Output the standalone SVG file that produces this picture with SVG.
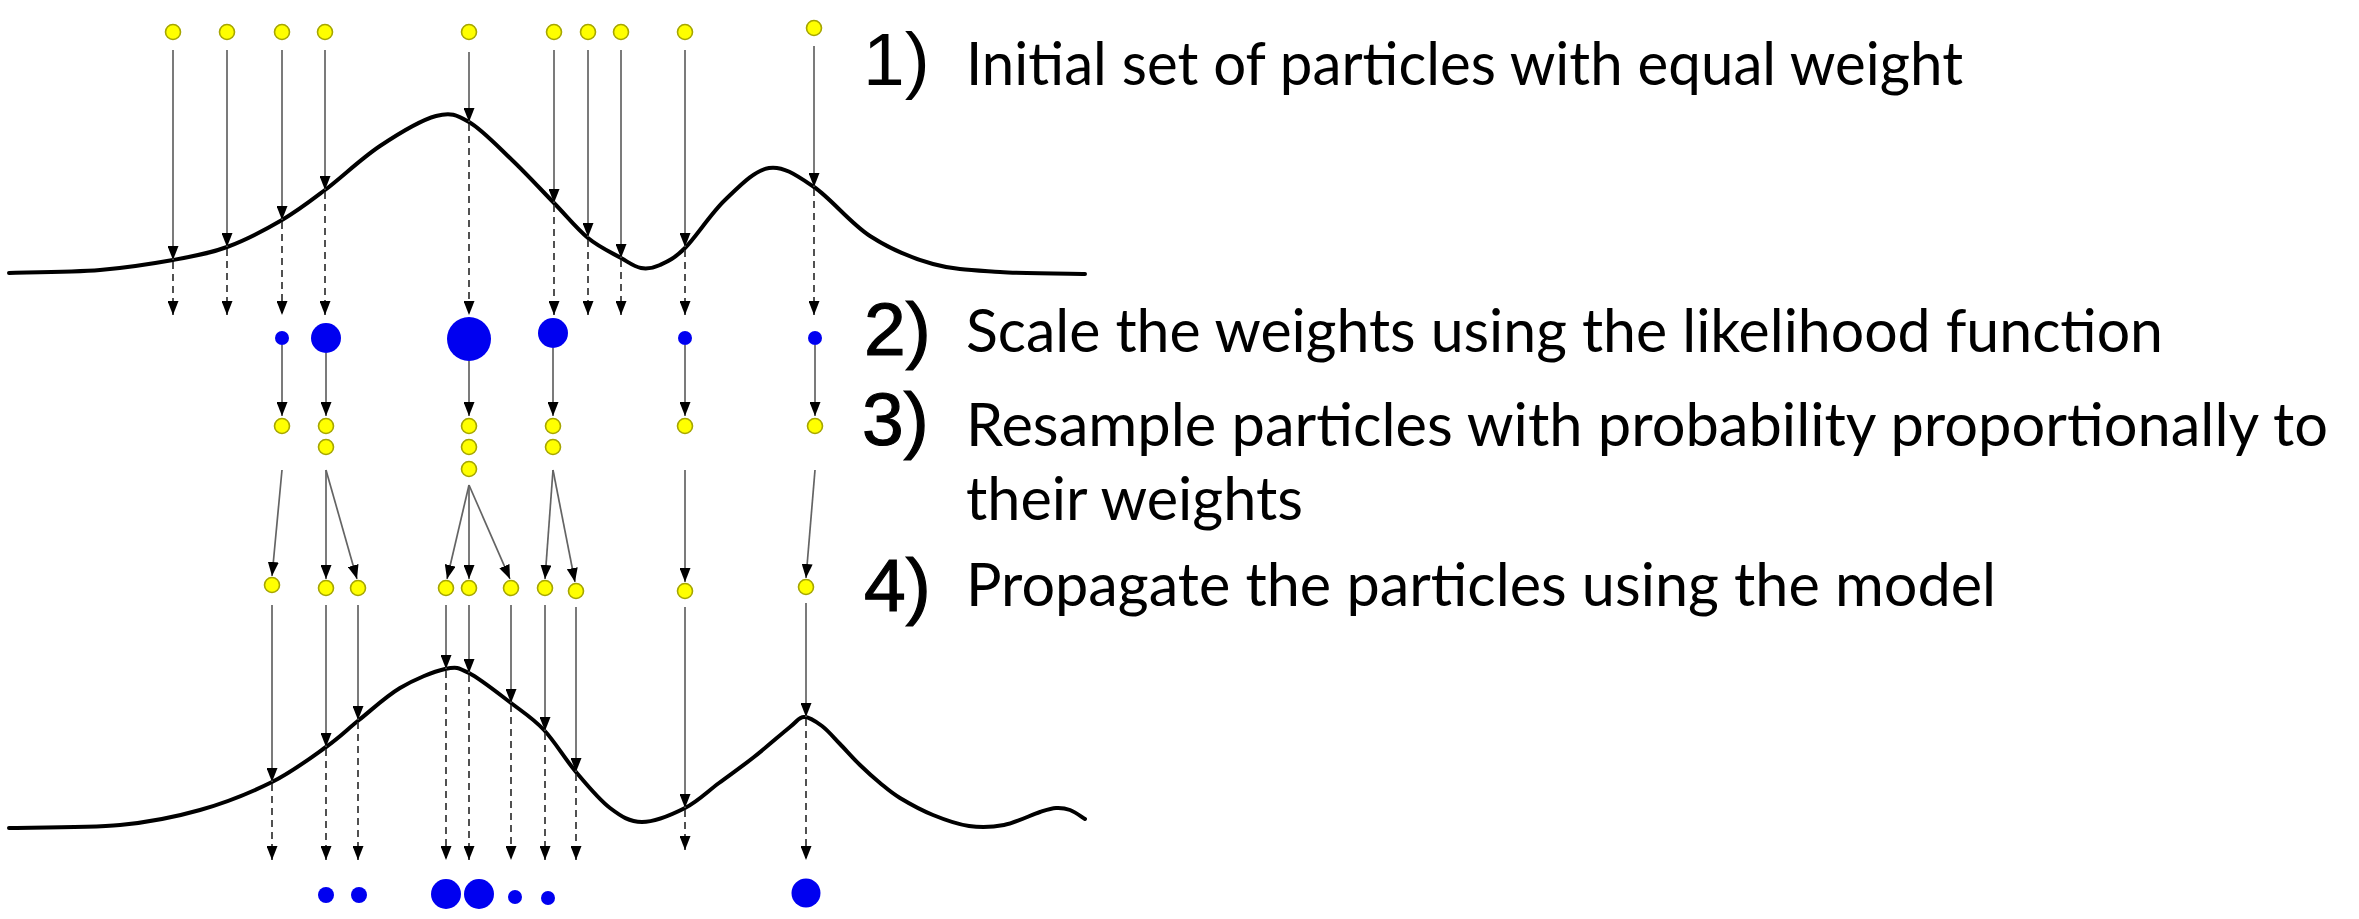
<svg xmlns="http://www.w3.org/2000/svg" width="2359" height="919" viewBox="0 0 2359 919">
<style>
.pt{fill:#ffff00;stroke:#a6a600;stroke-width:1.6}
.wt{fill:#0000f0}
.sol{stroke:#646464;stroke-width:1.7;fill:none}
.dsh{stroke:#333;stroke-width:1.7;fill:none;stroke-dasharray:7 5}
.crv{stroke:#000;stroke-width:4;fill:none;stroke-linecap:round;stroke-linejoin:round}
.num{font-family:"Liberation Sans",Arial,sans-serif;font-size:75px;fill:#000}
.bold{stroke:#000;stroke-width:1.2}
.txt{font-family:Lato,"Open Sans",sans-serif;font-size:60px;fill:#000}
</style>
<defs>
<marker id="ah" markerUnits="userSpaceOnUse" viewBox="0 0 14 11" refX="14" refY="5.5" markerWidth="14" markerHeight="11" orient="auto">
<path d="M0,0 L14,5.5 L0,11 z" fill="#000"/>
</marker>
</defs>
<rect width="2359" height="919" fill="#fff"/>

<g id="likelihood-top">
<path class="crv" d="M9,273 C24.2,272.5 72.7,272.2 100,270 C127.3,267.8 151.8,263.8 173,260 C194.2,256.2 208.8,253.7 227,247 C245.2,240.3 265.7,229.5 282,220 C298.3,210.5 308.7,202.3 325,190 C341.3,177.7 361.5,158.3 380,146 C398.5,133.7 421.2,120 436,116 C450.8,112 456.3,114.7 469,122 C481.7,129.3 497.8,146.5 512,160 C526.2,173.5 541.3,190 554,203 C566.7,216 576.8,228.8 588,238 C599.2,247.2 612.2,253 621,258 C629.8,263 634.5,266.8 641,268 C647.5,269.2 652.7,268.3 660,265 C667.3,261.7 674.2,258.8 685,248 C695.8,237.2 711,213.3 725,200 C739,186.7 754.2,170.2 769,168 C783.8,165.8 797.2,175.7 814,187 C830.8,198.3 850.2,223.2 870,236 C889.8,248.8 911.3,258 933,264 C954.7,270 974.7,270.3 1000,272 C1025.3,273.7 1070.8,273.7 1085,274"/>
</g>
<g id="likelihood-bottom">
<path class="crv" d="M9,828 C27.5,827.5 88.2,828 120,825 C151.8,822 174.7,817.2 200,810 C225.3,802.8 251,792.5 272,782 C293,771.5 311.5,757.3 326,747 C340.5,736.7 346.7,729.8 359,720 C371.3,710.2 385.7,696.5 400,688 C414.3,679.5 433.5,671.5 445,669 C456.5,666.5 458,667.3 469,673 C480,678.7 498.5,693.5 511,703 C523.5,712.5 533.2,718.5 544,730 C554.8,741.5 565,759 576,772 C587,785 599,799.7 610,808 C621,816.3 629.5,822 642,822 C654.5,822 672.2,814.5 685,808 C697.8,801.5 707.5,791.5 719,783 C730.5,774.5 742.2,766.3 754,757 C765.8,747.7 781.7,733.7 790,727 C798.3,720.3 798.7,717.2 804,717 C809.3,716.8 816,721.5 822,726 C828,730.5 833.7,737.5 840,744 C846.3,750.5 853.3,758.5 860,765 C866.7,771.5 873.3,777.5 880,783 C886.7,788.5 891.2,792.7 900,798 C908.8,803.3 921.5,810.3 933,815 C944.5,819.7 957.2,824.3 969,826 C980.8,827.7 992.2,827.3 1004,825 C1015.8,822.7 1031.3,814.8 1040,812 C1048.7,809.2 1051,808.3 1056,808 C1061,807.7 1065.2,808.2 1070,810 C1074.8,811.8 1082.5,817.5 1085,819"/>
</g>

<g id="connectors">
<line class="sol" x1="173" y1="50" x2="173" y2="260" marker-end="url(#ah)"/>
<line class="sol" x1="227" y1="50" x2="227" y2="247" marker-end="url(#ah)"/>
<line class="sol" x1="282" y1="50" x2="282" y2="220" marker-end="url(#ah)"/>
<line class="sol" x1="325" y1="50" x2="325" y2="190" marker-end="url(#ah)"/>
<line class="sol" x1="469" y1="52" x2="469" y2="122" marker-end="url(#ah)"/>
<line class="sol" x1="554" y1="50" x2="554" y2="203" marker-end="url(#ah)"/>
<line class="sol" x1="588" y1="50" x2="588" y2="237" marker-end="url(#ah)"/>
<line class="sol" x1="621" y1="50" x2="621" y2="258" marker-end="url(#ah)"/>
<line class="sol" x1="685" y1="50" x2="685" y2="247" marker-end="url(#ah)"/>
<line class="sol" x1="814" y1="46" x2="814" y2="187" marker-end="url(#ah)"/>
<line class="dsh" x1="173" y1="262" x2="173" y2="315" marker-end="url(#ah)"/>
<line class="dsh" x1="227" y1="249" x2="227" y2="315" marker-end="url(#ah)"/>
<line class="dsh" x1="282" y1="222" x2="282" y2="315" marker-end="url(#ah)"/>
<line class="dsh" x1="325" y1="192" x2="325" y2="315" marker-end="url(#ah)"/>
<line class="dsh" x1="469" y1="124" x2="469" y2="315" marker-end="url(#ah)"/>
<line class="dsh" x1="554" y1="205" x2="554" y2="315" marker-end="url(#ah)"/>
<line class="dsh" x1="588" y1="240" x2="588" y2="315" marker-end="url(#ah)"/>
<line class="dsh" x1="621" y1="260" x2="621" y2="315" marker-end="url(#ah)"/>
<line class="dsh" x1="685" y1="250" x2="685" y2="315" marker-end="url(#ah)"/>
<line class="dsh" x1="814" y1="189" x2="814" y2="315" marker-end="url(#ah)"/>
<line class="sol" x1="282" y1="345" x2="282" y2="416" marker-end="url(#ah)"/>
<line class="sol" x1="326" y1="353" x2="326" y2="416" marker-end="url(#ah)"/>
<line class="sol" x1="469" y1="361" x2="469" y2="416" marker-end="url(#ah)"/>
<line class="sol" x1="553" y1="348" x2="553" y2="416" marker-end="url(#ah)"/>
<line class="sol" x1="685" y1="345" x2="685" y2="416" marker-end="url(#ah)"/>
<line class="sol" x1="815" y1="345" x2="815" y2="416" marker-end="url(#ah)"/>
<line class="sol" x1="282" y1="470" x2="272" y2="576" marker-end="url(#ah)"/>
<line class="sol" x1="326" y1="470" x2="326" y2="579" marker-end="url(#ah)"/>
<line class="sol" x1="326" y1="470" x2="357" y2="579" marker-end="url(#ah)"/>
<line class="sol" x1="469" y1="485" x2="447" y2="579" marker-end="url(#ah)"/>
<line class="sol" x1="469" y1="485" x2="469" y2="579" marker-end="url(#ah)"/>
<line class="sol" x1="469" y1="485" x2="510" y2="579" marker-end="url(#ah)"/>
<line class="sol" x1="553" y1="470" x2="545" y2="579" marker-end="url(#ah)"/>
<line class="sol" x1="553" y1="470" x2="575" y2="582" marker-end="url(#ah)"/>
<line class="sol" x1="685" y1="470" x2="685" y2="582" marker-end="url(#ah)"/>
<line class="sol" x1="815" y1="470" x2="806" y2="578" marker-end="url(#ah)"/>
<line class="sol" x1="272" y1="605" x2="272" y2="782" marker-end="url(#ah)"/>
<line class="sol" x1="326" y1="605" x2="326" y2="747" marker-end="url(#ah)"/>
<line class="sol" x1="358" y1="605" x2="358" y2="720" marker-end="url(#ah)"/>
<line class="sol" x1="446" y1="605" x2="446" y2="669" marker-end="url(#ah)"/>
<line class="sol" x1="469" y1="605" x2="469" y2="673" marker-end="url(#ah)"/>
<line class="sol" x1="511" y1="605" x2="511" y2="703" marker-end="url(#ah)"/>
<line class="sol" x1="545" y1="605" x2="545" y2="731" marker-end="url(#ah)"/>
<line class="sol" x1="576" y1="607" x2="576" y2="772" marker-end="url(#ah)"/>
<line class="sol" x1="685" y1="607" x2="685" y2="808" marker-end="url(#ah)"/>
<line class="sol" x1="806" y1="603" x2="806" y2="717" marker-end="url(#ah)"/>
<line class="dsh" x1="272" y1="784" x2="272" y2="860" marker-end="url(#ah)"/>
<line class="dsh" x1="326" y1="749" x2="326" y2="860" marker-end="url(#ah)"/>
<line class="dsh" x1="358" y1="722" x2="358" y2="860" marker-end="url(#ah)"/>
<line class="dsh" x1="446" y1="671" x2="446" y2="860" marker-end="url(#ah)"/>
<line class="dsh" x1="469" y1="675" x2="469" y2="860" marker-end="url(#ah)"/>
<line class="dsh" x1="511" y1="705" x2="511" y2="860" marker-end="url(#ah)"/>
<line class="dsh" x1="545" y1="733" x2="545" y2="860" marker-end="url(#ah)"/>
<line class="dsh" x1="576" y1="774" x2="576" y2="860" marker-end="url(#ah)"/>
<line class="dsh" x1="685" y1="810" x2="685" y2="850" marker-end="url(#ah)"/>
<line class="dsh" x1="806" y1="719" x2="806" y2="860" marker-end="url(#ah)"/>
</g>

<g id="particles-initial">
<circle class="pt" cx="173" cy="32" r="7.5"/>
<circle class="pt" cx="227" cy="32" r="7.5"/>
<circle class="pt" cx="282" cy="32" r="7.5"/>
<circle class="pt" cx="325" cy="32" r="7.5"/>
<circle class="pt" cx="469" cy="32" r="7.5"/>
<circle class="pt" cx="554" cy="32" r="7.5"/>
<circle class="pt" cx="588" cy="32" r="7.5"/>
<circle class="pt" cx="621" cy="32" r="7.5"/>
<circle class="pt" cx="685" cy="32" r="7.5"/>
<circle class="pt" cx="814" cy="28" r="7.5"/>
</g>
<g id="weights-1">
<circle class="wt" cx="282" cy="338" r="7"/>
<circle class="wt" cx="326" cy="338" r="15"/>
<circle class="wt" cx="469" cy="339" r="22"/>
<circle class="wt" cx="553" cy="333" r="15"/>
<circle class="wt" cx="685" cy="338" r="7"/>
<circle class="wt" cx="815" cy="338" r="7"/>
</g>
<g id="particles-resampled">
<circle class="pt" cx="282" cy="426" r="7.5"/>
<circle class="pt" cx="326" cy="426" r="7.5"/>
<circle class="pt" cx="326" cy="447" r="7.5"/>
<circle class="pt" cx="469" cy="426" r="7.5"/>
<circle class="pt" cx="469" cy="447" r="7.5"/>
<circle class="pt" cx="469" cy="469" r="7.5"/>
<circle class="pt" cx="553" cy="426" r="7.5"/>
<circle class="pt" cx="553" cy="447" r="7.5"/>
<circle class="pt" cx="685" cy="426" r="7.5"/>
<circle class="pt" cx="815" cy="426" r="7.5"/>
</g>
<g id="particles-propagated">
<circle class="pt" cx="272" cy="585" r="7.5"/>
<circle class="pt" cx="326" cy="588" r="7.5"/>
<circle class="pt" cx="358" cy="588" r="7.5"/>
<circle class="pt" cx="446" cy="588" r="7.5"/>
<circle class="pt" cx="469" cy="588" r="7.5"/>
<circle class="pt" cx="511" cy="588" r="7.5"/>
<circle class="pt" cx="545" cy="588" r="7.5"/>
<circle class="pt" cx="576" cy="591" r="7.5"/>
<circle class="pt" cx="685" cy="591" r="7.5"/>
<circle class="pt" cx="806" cy="587" r="7.5"/>
</g>
<g id="weights-2">
<circle class="wt" cx="326" cy="895" r="8"/>
<circle class="wt" cx="359" cy="895" r="8"/>
<circle class="wt" cx="446" cy="894" r="15"/>
<circle class="wt" cx="479" cy="894" r="15"/>
<circle class="wt" cx="515" cy="897" r="7"/>
<circle class="wt" cx="548" cy="898" r="7"/>
<circle class="wt" cx="806" cy="893" r="14.5"/>
</g>

<g id="step-1">
<text class="num" x="863" y="85">1)</text>
<text class="txt" x="966" y="85" textLength="997" lengthAdjust="spacingAndGlyphs">Initial set of particles with equal weight</text>
</g>
<g id="step-2">
<text class="num bold" x="864" y="355">2)</text>
<text class="txt" x="966" y="352" textLength="1197" lengthAdjust="spacingAndGlyphs">Scale the weights using the likelihood function</text>
</g>
<g id="step-3">
<text class="num bold" x="862" y="445">3)</text>
<text class="txt" x="966" y="446" textLength="1362" lengthAdjust="spacingAndGlyphs">Resample particles with probability proportionally to</text>
<text class="txt" x="966" y="520" textLength="337" lengthAdjust="spacingAndGlyphs">their weights</text>
</g>
<g id="step-4">
<text class="num bold" x="864" y="611">4)</text>
<text class="txt" x="966" y="606" textLength="1030" lengthAdjust="spacingAndGlyphs">Propagate the particles using the model</text>
</g>
</svg>
